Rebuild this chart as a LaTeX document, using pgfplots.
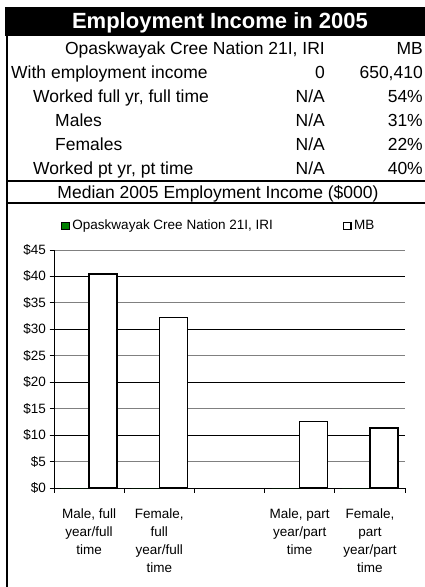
\documentclass[border=0pt]{standalone}
\usepackage{fontspec}
\setmainfont{Liberation Sans}
\usepackage{pgfplots}
\pgfplotsset{compat=1.18}
\definecolor{ocn}{RGB}{0,128,0}
\definecolor{gridgray}{RGB}{128,128,128}
\newcommand{\tabfont}{\fontsize{17.5}{21}\selectfont}
\newcommand{\chartfont}{\fontsize{13.5}{18}\selectfont}
\begin{document}
\begin{tikzpicture}
\useasboundingbox (0,0) rectangle (425pt,-587pt);
% header block
\fill[black] (5pt,-7pt) rectangle (425pt,-36pt);
\node[white,font=\fontsize{22}{26}\selectfont\bfseries,anchor=base,inner sep=0pt] at (220pt,-28.9pt) {Employment Income in 2005};
\draw[line width=2.5pt] (7pt,-36pt) -- (7pt,-587pt);
\draw[line width=2pt] (7pt,-181pt) -- (425pt,-181pt);
\draw[line width=1.5pt] (7pt,-203pt) -- (425pt,-203pt);
\begin{scope}[every node/.style={inner sep=0pt,font=\tabfont}]
\node[anchor=base east] at (325pt,-54.3pt) {Opaskwayak Cree Nation 21I, IRI};
\node[anchor=base east] at (423pt,-54.3pt) {MB};
\node[anchor=base west] at (11pt,-78.8pt) {With employment income};
\node[anchor=base east] at (325pt,-78.8pt) {0};
\node[anchor=base east] at (423pt,-78.8pt) {650,410};
\node[anchor=base west] at (33pt,-102.8pt) {Worked full yr, full time};
\node[anchor=base east] at (325pt,-102.8pt) {N/A};
\node[anchor=base east] at (423pt,-102.8pt) {54\%};
\node[anchor=base west] at (55pt,-126.3pt) {Males};
\node[anchor=base east] at (325pt,-126.3pt) {N/A};
\node[anchor=base east] at (423pt,-126.3pt) {31\%};
\node[anchor=base west] at (55pt,-150.3pt) {Females};
\node[anchor=base east] at (325pt,-150.3pt) {N/A};
\node[anchor=base east] at (423pt,-150.3pt) {22\%};
\node[anchor=base west] at (33pt,-174.8pt) {Worked pt yr, pt time};
\node[anchor=base east] at (325pt,-174.8pt) {N/A};
\node[anchor=base east] at (423pt,-174.8pt) {40\%};
\node[anchor=base] at (218pt,-198.3pt) {Median 2005 Employment Income (\$000)};
\end{scope}
\begin{axis}[at={(54pt,-488pt)}, anchor=south west, scale only axis,
    width=351pt, height=238pt,
    ymin=0, ymax=45, xmin=-0.5, xmax=4.5,
    axis lines*=left, axis line style={line width=1pt},
    ytick={0,5,...,45},
    yticklabels={\$0,\$5,\$10,\$15,\$20,\$25,\$30,\$35,\$40,\$45},
    ymajorgrids, major grid style={gridgray,line width=1pt},
    extra y ticks={10,20,30,40}, extra y tick labels={},
    extra y tick style={grid=major, major grid style={black,line width=0.8pt}},
    xtick={-0.5,0.5,...,4.5}, x tick label as interval,
    xticklabels={{Male, full\\year/full\\time}, {Female,\\full\\year/full\\time}, {},
                 {Male, part\\year/part\\time}, {Female,\\part\\year/part\\time}},
    tick align=outside, major tick length=4.5pt, tick style={black,line width=0.8pt},
    tick label style={font=\chartfont},
    xticklabel style={align=center, anchor=north, yshift=-13pt},
    legend columns=2,
    legend style={at={(0.0199,1.1008)}, anchor=west, draw=none, fill=none,
        inner sep=0pt, font=\chartfont,
        nodes={inner sep=1pt, text height=9.7pt, text depth=2.8pt},
        /tikz/every odd column/.append style={column sep=1.5pt},
        /tikz/every even column/.append style={column sep=69pt}},
    legend cell align=left,
]
\addlegendimage{legend image code/.code={\draw[black,fill=ocn,line width=1.2pt] (0pt,-3.8pt) rectangle (7.6pt,3.8pt);}}
\addlegendentry{Opaskwayak Cree Nation 21I, IRI}
\addlegendimage{legend image code/.code={\draw[black,fill=white,line width=1.2pt] (0pt,-3.8pt) rectangle (7.6pt,3.8pt);}}
\addlegendentry{MB}
\addplot[ybar, bar width=28pt, bar shift=-14pt, fill=ocn, draw=none, forget plot]
    coordinates {(0,0) (1,0) (3,0) (4,0)};
\addplot[ybar, bar width=28pt, bar shift=14pt, fill=white, draw=black, line width=1.5pt, forget plot]
    coordinates {(0,40.5) (1,32.2) (3,12.6) (4,11.3)};
\end{axis}
\end{tikzpicture}
\end{document}
